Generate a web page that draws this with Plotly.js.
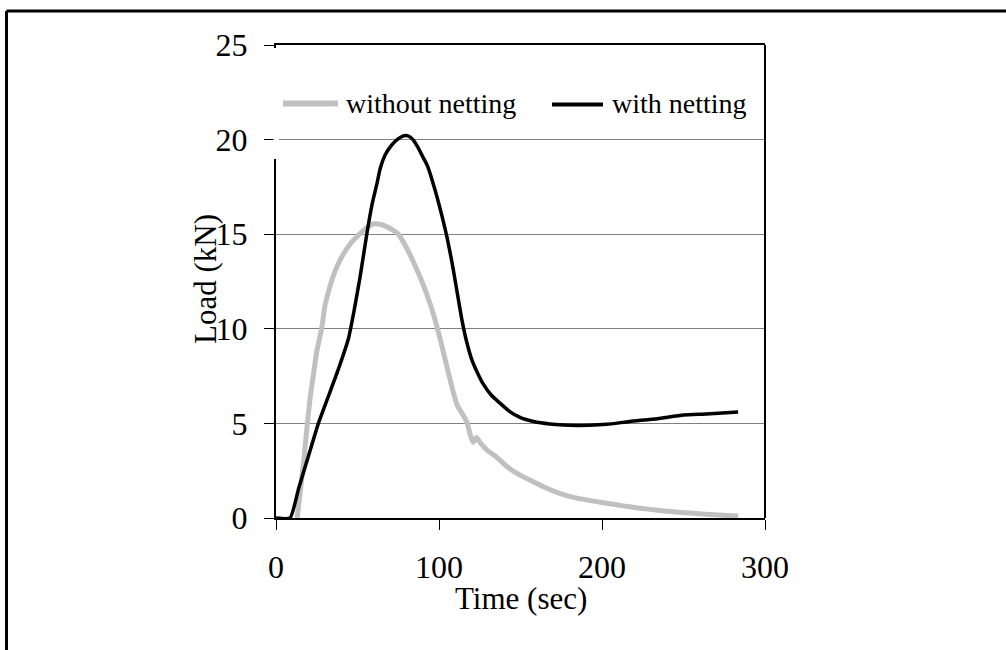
<!DOCTYPE html>
<html>
<head>
<meta charset="utf-8">
<script src="https://cdn.plot.ly/plotly-3.0.1.min.js"></script>
<style>html,body{margin:0;padding:0;background:#fff;}#chart{width:1006px;height:650px;}</style>
</head>
<body>
<div id="chart"></div>
<script>
// ---- data ----
const nameWithout = "without netting";
const nameWith = "with netting";

const timeWithout = [13, 15, 17, 19, 21, 23, 25, 28, 30, 32, 34, 36, 38, 41, 44, 47, 50, 55, 60, 65, 70, 75, 80, 85, 90, 95, 100, 104, 108, 111, 114, 117, 119.5, 121, 123, 126, 130, 135.6, 142, 150, 157, 164, 174, 182, 192, 203, 213, 223, 233, 243.6, 254, 264, 274, 283.6];
const loadWithout = [0, 1.5, 3.0, 4.8, 6.4, 7.6, 8.8, 10.0, 11.2, 11.9, 12.5, 13.0, 13.4, 13.9, 14.3, 14.65, 14.9, 15.3, 15.55, 15.5, 15.3, 15.0, 14.3, 13.4, 12.4, 11.2, 9.7, 8.3, 6.9, 6.0, 5.55, 5.1, 4.3, 4.0, 4.25, 3.9, 3.55, 3.2, 2.7, 2.25, 1.95, 1.65, 1.3, 1.1, 0.93, 0.78, 0.64, 0.52, 0.42, 0.33, 0.26, 0.2, 0.14, 0.1];

const timeWith = [0, 8.6, 14, 20, 26, 32, 38, 44.5, 48, 51.5, 55.7, 59, 62, 64, 67, 70, 73, 76, 78.5, 81, 84, 87, 90, 93, 96, 99, 102, 105, 108, 111, 114, 117, 120, 124, 127, 132, 137, 143, 150, 158, 168, 180, 192, 203, 217, 234, 250, 264, 283.5];
const loadWith = [0, 0, 1.6, 3.3, 5.0, 6.4, 7.8, 9.5, 11.0, 12.7, 15.0, 16.6, 17.7, 18.5, 19.2, 19.6, 19.9, 20.1, 20.2, 20.2, 20.0, 19.6, 19.1, 18.6, 17.8, 16.9, 15.9, 14.8, 13.5, 12.0, 10.5, 9.3, 8.4, 7.6, 7.1, 6.5, 6.1, 5.65, 5.3, 5.1, 4.97, 4.9, 4.9, 4.95, 5.1, 5.25, 5.45, 5.5, 5.6];

const xTicks = [0, 100, 200, 300];
const yTicks = [0, 5, 10, 15, 20, 25];
const xTitle = "Time (sec)";
const yTitle = "Load (kN)";

// ---- styling ----
const grayCol = "#c0c0c0";
const serif = "Liberation Serif, Times New Roman, serif";
const W = 1006, H = 650;
const L = 276, R = 765, T = 45, B = 518;
const px = v => (v - L) / (R - L);
const py = v => (B - v) / (B - T);

const traces = [
  {x: timeWithout, y: loadWithout, name: nameWithout, type: "scatter", mode: "lines",
   line: {color: grayCol, width: 5, shape: "spline", smoothing: 0.5}, showlegend: false, hoverinfo: "skip"},
  {x: timeWith, y: loadWith, name: nameWith, type: "scatter", mode: "lines",
   line: {color: "#000000", width: 3.5, shape: "spline", smoothing: 0.5}, showlegend: false, hoverinfo: "skip"}
];

const shapes = [
  // outer frame (top and left edges visible)
  {type: "line", xref: "paper", yref: "paper", x0: px(6.5), x1: px(1006), y0: py(11), y1: py(11), line: {color: "#000", width: 3}},
  {type: "line", xref: "paper", yref: "paper", x0: px(6.5), x1: px(6.5), y0: py(11), y1: py(650), line: {color: "#000", width: 3}},
  // plot-area right border
  {type: "line", xref: "paper", yref: "paper", x0: 1, x1: 1, y0: 0, y1: 1, line: {color: "#000", width: 2}},
  // legend background (covers gridline)
  {type: "rect", xref: "paper", yref: "paper", x0: px(268), x1: px(758), y0: py(159), y1: py(48), layer: "between", fillcolor: "#fff", line: {width: 0}},
  // strip that hides left axis line behind legend box
  {type: "rect", xref: "paper", yref: "paper", x0: px(273.5), x1: px(279), y0: py(159), y1: py(48), layer: "above", fillcolor: "#fff", line: {width: 0}},
  // legend samples
  {type: "line", xref: "paper", yref: "paper", x0: px(283), x1: px(338), y0: py(103.5), y1: py(103.5), line: {color: grayCol, width: 6}},
  {type: "line", xref: "paper", yref: "paper", x0: px(552), x1: px(603), y0: py(104.5), y1: py(104.5), line: {color: "#000", width: 4}}
];

const annotations = [
  {xref: "paper", yref: "paper", x: px(344), y: py(104), xanchor: "left", yanchor: "middle", text: nameWithout, showarrow: false, font: {family: serif, size: 28, color: "#000"}},
  {xref: "paper", yref: "paper", x: px(610), y: py(104), xanchor: "left", yanchor: "middle", text: nameWith, showarrow: false, font: {family: serif, size: 28, color: "#000"}},
  // axis titles
  {xref: "paper", yref: "paper", x: 0.5, y: py(598), xanchor: "center", yanchor: "middle", text: xTitle, showarrow: false, font: {family: serif, size: 31, color: "#000"}},
  {xref: "paper", yref: "paper", x: px(205), y: py(279), xanchor: "center", yanchor: "middle", textangle: -90, text: yTitle, showarrow: false, font: {family: serif, size: 31, color: "#000"}}
];

const layout = {
  width: W, height: H,
  margin: {l: L, r: W - R, t: T, b: H - B, pad: 0},
  paper_bgcolor: "#fff", plot_bgcolor: "#fff",
  showlegend: false,
  xaxis: {
    range: [0, 300], tickvals: xTicks, ticktext: xTicks.map(String),
    ticks: "outside", ticklen: 10, tickwidth: 1, tickcolor: "#000",
    showline: true, linecolor: "#000", linewidth: 2, mirror: true,
    showgrid: false, zeroline: false, fixedrange: true,
    tickfont: {family: serif, size: 32, color: "#000"},
    ticklabelstandoff: 10,
    automargin: false
  },
  yaxis: {
    range: [0, 25], tickvals: yTicks, ticktext: yTicks.map(String),
    ticks: "outside", ticklen: 10, tickwidth: 1, tickcolor: "#000",
    showline: true, linecolor: "#000", linewidth: 2, mirror: false,
    showgrid: true, gridcolor: "#808080", gridwidth: 1,
    zeroline: false, fixedrange: true,
    tickfont: {family: serif, size: 32, color: "#000"},
    ticklabelstandoff: 10,
    automargin: false
  },
  shapes: shapes,
  annotations: annotations
};

Plotly.newPlot("chart", traces, layout, {staticPlot: true, displayModeBar: false});
</script>
</body>
</html>
